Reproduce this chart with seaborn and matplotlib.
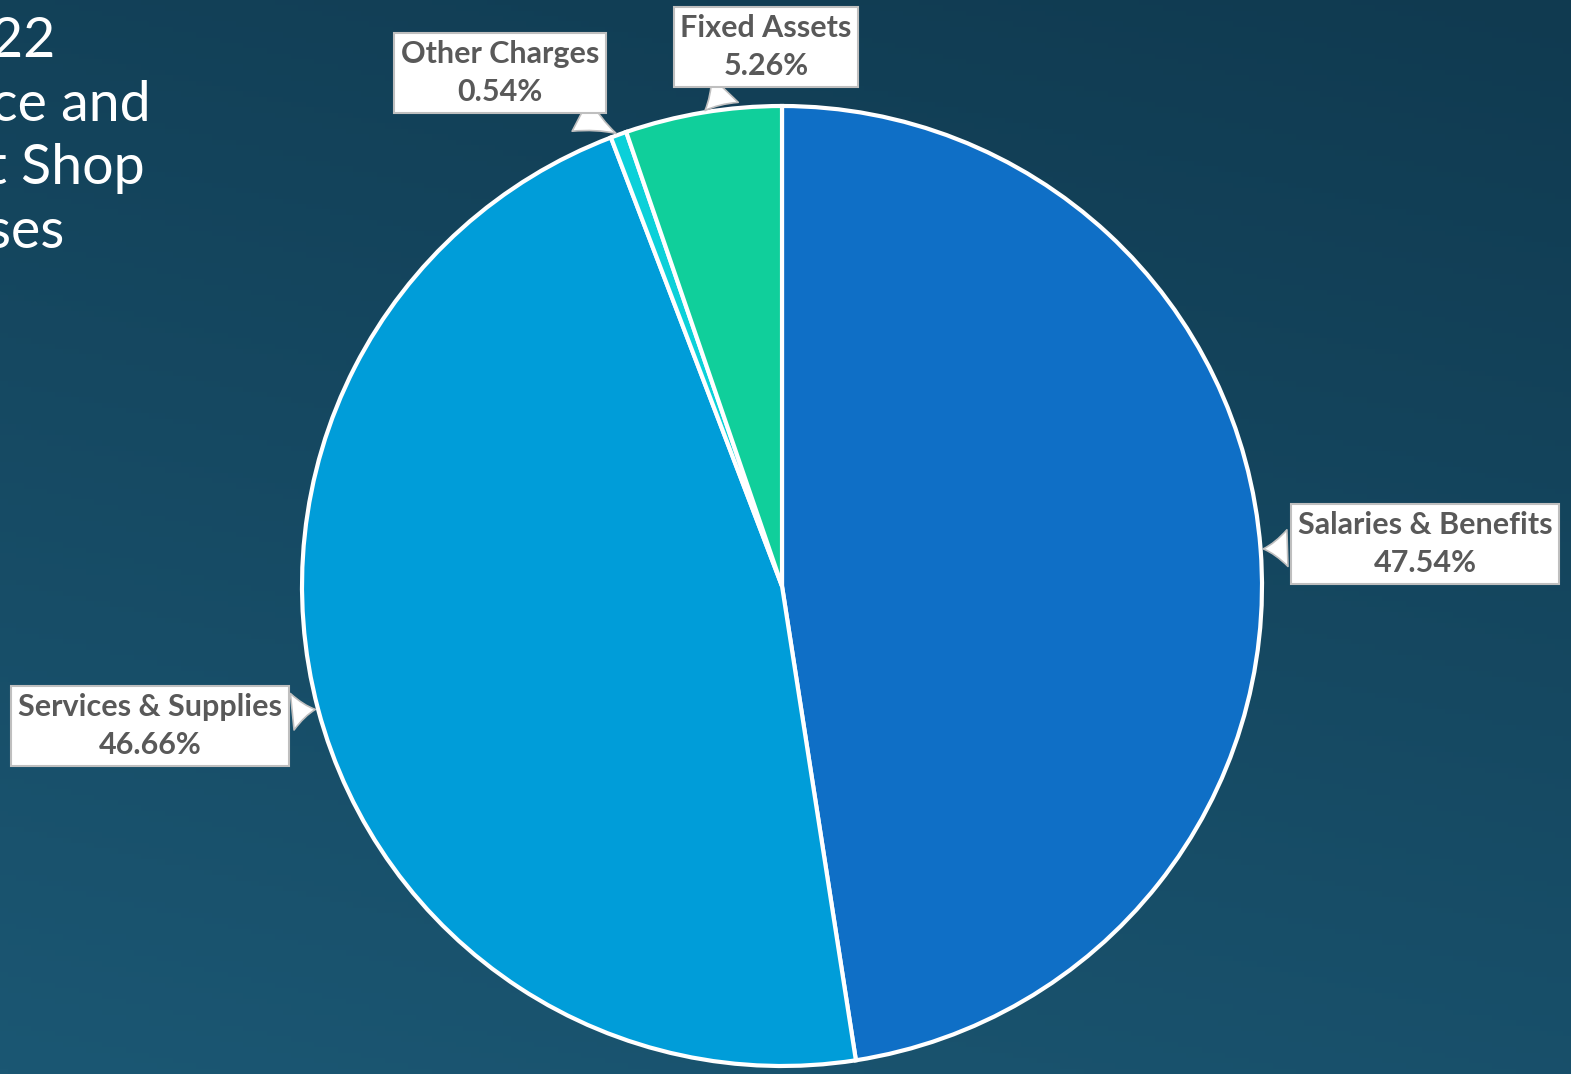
import numpy as np
import matplotlib.pyplot as plt
import seaborn as sns

categories = ["Salaries & Benefits", "Services & Supplies", "Other Charges", "Fixed Assets"]
shares = [47.54, 46.66, 0.54, 5.26]
pct_labels = ["47.54%", "46.66%", "0.54%", "5.26%"]
colors = ["#0F6FC6", "#009DD9", "#0BD0D9", "#10CF9B"]
title_lines = ["FY 2021/22", "Finance and", "Print Shop", "Expenses"]

sns.set_theme(style="white")
plt.rcParams['font.family'] = ['Lato', 'DejaVu Sans']

W, H = 1571, 1074
fig = plt.figure(figsize=(W / 100, H / 100), dpi=100)
ax = fig.add_axes([0, 0, 1, 1])
ax.set_xlim(0, W)
ax.set_ylim(0, H)
ax.set_aspect('equal')
ax.axis('off')

# background gradient: darker top-right, lighter bottom-left
yy, xx = np.mgrid[0:1:200j, 0:1:200j]
t = np.clip(0.75 * yy + 0.25 * (1 - xx), 0, 1)
top = np.array([0x10, 0x3A, 0x50]) / 255
bot = np.array([0x1B, 0x57, 0x73]) / 255
grad = top[None, None, :] * (1 - t[..., None]) + bot[None, None, :] * t[..., None]
ax.imshow(grad, extent=[0, W, 0, H], origin='upper', aspect='auto', zorder=0)

cx, cy, r = 782, H - 586, 480
wedges, _ = ax.pie(shares, colors=colors, startangle=90, counterclock=False,
                   center=(cx, cy), radius=r, frame=True,
                   wedgeprops=dict(edgecolor='white', linewidth=3))
for w in wedges:
    w.set_zorder(2)
ax.set_xlim(0, W)
ax.set_ylim(0, H)
ax.axis('off')

label_pos = [(1425, H - 544), (150, H - 726), (500, H - 73), (766, H - 47)]
for w, cat, pct, pos in zip(wedges, categories, pct_labels, label_pos):
    ang = np.deg2rad((w.theta1 + w.theta2) / 2)
    pt = (cx + r * np.cos(ang), cy + r * np.sin(ang))
    ax.annotate(f"{cat}\n{pct}", xy=pt, xytext=pos, ha='center', va='center',
                fontsize=22, fontweight='bold', color='#595959', linespacing=1.45,
                bbox=dict(boxstyle='square,pad=0.22', fc='white', ec='#BFBFBF', lw=1.5),
                arrowprops=dict(arrowstyle='wedge,tail_width=1.2,shrink_factor=0.4',
                                fc='white', ec='#BFBFBF', lw=1.2),
                zorder=5)

# title block, partly cut off at the left edge as in the source slide
title_ends = [55, 151, 145, 65]
for i, (line, xe) in enumerate(zip(title_lines, title_ends)):
    ax.text(xe, H - 57 - 63.7 * i, line, ha='right', va='baseline',
            fontsize=40, color='white', zorder=4)

fig.savefig("out.png", dpi=100)
